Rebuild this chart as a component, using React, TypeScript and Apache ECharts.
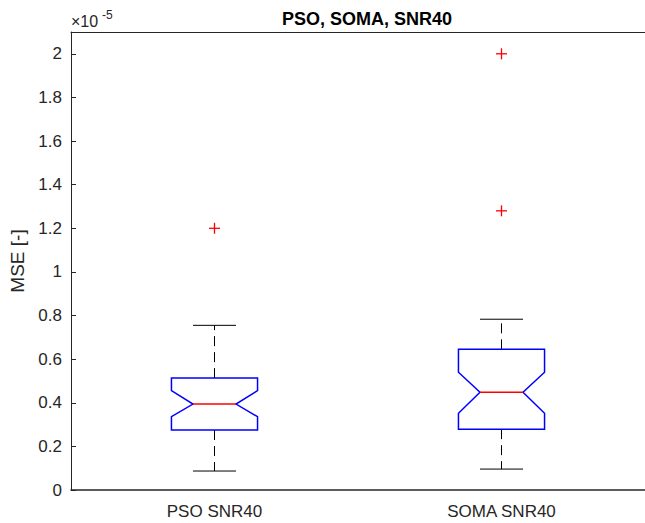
import React, { useEffect, useRef } from "react";
import * as echarts from "echarts";

// MSE values are in units of 1e-5
const categories = ["PSO SNR40", "SOMA SNR40"];
const lowerWhisker = [0.087, 0.096];
const quartile1 = [0.275, 0.279];
const notchLow = [0.336, 0.352];
const median = [0.394, 0.448];
const notchHigh = [0.456, 0.54];
const quartile3 = [0.513, 0.645];
const upperWhisker = [0.755, 0.783];
const outliers: [number, number][] = [
  [0, 1.2],
  [1, 1.28],
  [1, 2.0],
];
const yTickMax = 2.1;

const FONT = "'Liberation Sans', Arial, Helvetica, sans-serif";
const AXIS_COLOR = "#262626";

export default function App() {
  const ref = useRef<HTMLDivElement>(null);

  useEffect(() => {
    if (!ref.current) return;
    const chart = echarts.init(ref.current, undefined, { renderer: "svg" });

    const boxData = categories.map((_, i) => [
      i,
      lowerWhisker[i],
      quartile1[i],
      notchLow[i],
      median[i],
      notchHigh[i],
      quartile3[i],
      upperWhisker[i],
    ]);

    const renderBox = (params: any, api: any) => {
      const idx = api.value(0);
      const y = (k: number) => api.coord([idx, api.value(k)])[1];
      const cx = api.coord([idx, api.value(4)])[0];
      const band = api.size([1, 0])[0];
      const hw = band * 0.15;
      const nw = hw * 0.5;
      const cw = hw * 0.5;
      const xl = cx - hw;
      const xr = cx + hw;
      const yLw = y(1), yQ1 = y(2), yNl = y(3), yMed = y(4), yNh = y(5), yQ3 = y(6), yUw = y(7);
      const whisker = { stroke: "#000", lineWidth: 1, lineDash: [10, 6] };
      const cap = { stroke: "#000", lineWidth: 1 };
      return {
        type: "group",
        children: [
          { type: "line", shape: { x1: cx, y1: yQ3, x2: cx, y2: yUw }, style: whisker },
          { type: "line", shape: { x1: cx, y1: yQ1, x2: cx, y2: yLw }, style: whisker },
          { type: "line", shape: { x1: cx - cw, y1: yUw, x2: cx + cw, y2: yUw }, style: cap },
          { type: "line", shape: { x1: cx - cw, y1: yLw, x2: cx + cw, y2: yLw }, style: cap },
          {
            type: "polygon",
            shape: {
              points: [
                [xl, yQ3], [xr, yQ3], [xr, yNh], [xr - nw, yMed], [xr, yNl],
                [xr, yQ1], [xl, yQ1], [xl, yNl], [xl + nw, yMed], [xl, yNh],
              ],
            },
            style: { fill: "none", stroke: "#0000ff", lineWidth: 1.5 },
          },
          {
            type: "line",
            shape: { x1: xl + nw, y1: yMed, x2: xr - nw, y2: yMed },
            style: { stroke: "#ff0000", lineWidth: 1.5 },
          },
        ],
      };
    };

    const renderOutlier = (params: any, api: any) => {
      const p = api.coord([api.value(0), api.value(1)]);
      const s = 5.5;
      const st = { stroke: "#ff0000", lineWidth: 1.3 };
      return {
        type: "group",
        children: [
          { type: "line", shape: { x1: p[0] - s, y1: p[1], x2: p[0] + s, y2: p[1] }, style: st },
          { type: "line", shape: { x1: p[0], y1: p[1] - s, x2: p[0], y2: p[1] + s }, style: st },
        ],
      };
    };

    chart.setOption({
      animation: false,
      backgroundColor: "#ffffff",
      textStyle: { fontFamily: FONT },
      title: {
        text: "PSO, SOMA, SNR40",
        left: 362,
        textAlign: "center",
        top: 5,
        textStyle: { fontFamily: FONT, fontWeight: "bold", fontSize: 18, color: "#000" },
      },
      graphic: [
        {
          type: "text",
          left: 71,
          top: 13,
          style: { text: "×10", font: `16px ${FONT}`, fill: AXIS_COLOR },
        },
        {
          type: "text",
          left: 102,
          top: 9,
          style: { text: "-5", font: `12px ${FONT}`, fill: AXIS_COLOR },
        },
      ],
      grid: { left: 71, top: 32, width: 580, bottom: 33 },
      xAxis: [
        {
          type: "category",
          data: categories,
          boundaryGap: true,
          axisLine: { lineStyle: { color: AXIS_COLOR, width: 1.5 } },
          axisTick: { inside: true, length: 5, alignWithLabel: true, lineStyle: { color: AXIS_COLOR } },
          axisLabel: { color: AXIS_COLOR, fontSize: 17, margin: 13, fontFamily: FONT },
        },
        {
          type: "category",
          data: categories,
          position: "top",
          boundaryGap: true,
          axisLine: { lineStyle: { color: AXIS_COLOR, width: 1 } },
          axisTick: { inside: true, length: 5, alignWithLabel: true, lineStyle: { color: AXIS_COLOR } },
          axisLabel: { show: false },
        },
      ],
      yAxis: {
        type: "value",
        min: 0,
        max: yTickMax,
        interval: 0.2,
        name: "MSE [-]",
        nameLocation: "middle",
        nameGap: 37,
        nameTextStyle: { fontSize: 19, color: AXIS_COLOR, fontFamily: FONT },
        splitLine: { show: false },
        axisLine: { show: true, lineStyle: { color: AXIS_COLOR, width: 1 } },
        axisTick: { show: true, inside: true, length: 5, lineStyle: { color: AXIS_COLOR } },
        axisLabel: {
          color: AXIS_COLOR,
          fontSize: 17,
          margin: 9,
          fontFamily: FONT,
          showMaxLabel: false,
          formatter: (v: number) => String(Math.round(v * 10) / 10),
        },
      },
      series: [
        {
          type: "custom",
          renderItem: renderBox,
          data: boxData,
          encode: { x: 0, y: [1, 7] },
          clip: false,
        },
        {
          type: "custom",
          renderItem: renderOutlier,
          data: outliers,
          encode: { x: 0, y: 1 },
          clip: false,
        },
      ],
    });

    return () => chart.dispose();
  }, []);

  return (
    <div
      ref={ref}
      style={{ position: "fixed", left: 0, top: 0, width: 645, height: 523, background: "#fff" }}
    />
  );
}
